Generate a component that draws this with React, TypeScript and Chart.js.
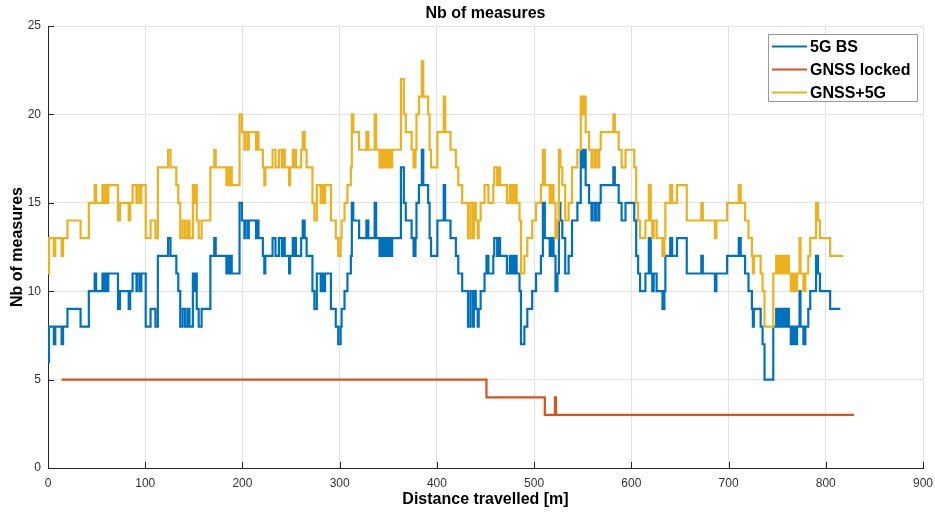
import React, { useEffect, useRef } from "react";
import { Chart, registerables } from "chart.js";

Chart.register(...registerables);

const chartTitle = "Nb of measures";
const xTitle = "Distance travelled [m]";
const yTitle = "Nb of measures";
const xTicks = [0, 100, 200, 300, 400, 500, 600, 700, 800, 900];
const yTicks = [0, 5, 10, 15, 20, 25];
const seriesNames = ["5G BS", "GNSS locked", "GNSS+5G"];
const seriesColors = ["#0072BD", "#D95319", "#EDB120"];

// [distance (m), count] step points: value holds until next point
const bs5g: [number, number][] = [
  [0, 6], [1, 8], [6, 7], [7.5, 8], [14, 7], [15.5, 8], [20, 9], [33.5, 8], [42, 10], [48, 11], [49.5, 10], [56, 11], [58, 10], [60, 11], [61, 10], [62, 11], [72, 9], [74, 10], [83, 9], [84.5, 10], [87, 11], [91, 10], [92, 11], [94.5, 10], [96, 11], [100.5, 8], [105.5, 9], [110.5, 8], [113, 12],
  [123.5, 13], [126, 12], [132, 11], [134, 10], [136, 8], [138.5, 9], [141, 8], [143.5, 9], [145.5, 8], [149, 11], [150.5, 10], [151.5, 11], [153, 9], [155, 8], [158, 9], [167, 12], [171, 13], [172.5, 12], [183.5, 11], [185, 12], [186, 11], [187, 12], [189, 11], [197, 15], [199.5, 14], [202, 13], [203, 14], [205.5, 13], [206.5, 14], [214, 13], [215.5, 14], [216.5, 13], [221, 12], [222.5, 11], [223.5, 12], [231, 13], [234, 12], [237.5, 13], [240.5, 12],
  [242, 13], [243.5, 12], [248, 11], [249, 12], [251.8, 13], [253, 12], [254, 13], [255, 12], [260.4, 13], [262, 14], [264, 13], [266, 12], [272, 10], [274, 9], [276.5, 11], [280.5, 10], [282, 11], [284, 10], [285, 11], [291, 9], [296, 8], [298.5, 7], [301, 8], [302, 9], [305, 10], [308, 11], [311.5, 12], [312.5, 15], [314, 14], [320, 13], [327.5, 14], [329.5, 13], [336, 15], [337.5, 13], [341, 12], [342, 13], [344, 12], [345, 13], [347, 12], [348, 13], [350, 12], [351, 13], [353, 12], [354, 13],
  [363, 17], [366, 15], [368, 14], [374, 13], [376, 12], [378, 13], [379, 15], [381.5, 16], [384.5, 18], [386, 16], [391, 15], [392.5, 13], [394, 12], [400.5, 14], [407, 16], [408.5, 14], [414, 13], [419.5, 12], [422, 11], [426, 10], [432, 8], [434.5, 10], [437, 8], [438, 10], [440, 9], [442, 8], [443, 9], [445, 10], [449, 11],
  [451, 12], [453, 11], [458, 12], [459, 13], [462, 12], [464, 13], [465, 12], [472, 11], [475, 12], [477, 11], [479, 12], [480, 11], [481, 12], [482, 11], [485, 10], [486.5, 7], [490, 8], [493, 9], [498, 10], [502, 11], [507, 12], [509, 15],
  [511, 13], [516, 12], [518, 13], [520, 12], [522, 10], [524, 11], [525.5, 15], [527, 14], [529, 13], [532, 11], [535.5, 12], [539, 14], [544.5, 15], [548, 18], [550, 17], [551, 18], [553, 16], [556.5, 15], [559, 14], [560, 15], [562.5, 14], [563.5, 15], [566, 14], [567, 15], [568.5, 16], [581.5, 17], [583, 16], [587, 15], [590, 14], [594, 15], [603, 14], [605, 12], [607, 11], [609, 10], [614.5, 11], [618, 13], [620, 11], [621.5, 10], [623, 11], [626, 10], [632, 9], [634, 10], [635, 12], [640, 13], [642, 12], [647, 13], [657, 11], [672, 12], [673.5, 11], [686, 10], [687.5, 11], [698.5, 12], [710.5, 13], [712.5, 12], [717, 11], [720.5, 10], [724, 9], [725, 8], [726, 9], [733, 8], [735, 7], [737, 5], [746, 8], [749, 9], [751, 8], [753, 9], [755, 8], [756, 9], [758, 8], [760, 9], [762, 8], [764, 7], [765, 8], [766, 7], [767, 8], [769, 7], [770.5, 8], [773, 10], [774, 8], [777, 7], [779, 8], [782, 9], [784, 10], [790, 12], [792, 11], [794, 10], [804.5, 9], [815, 9],
];

const gnssLocked: [number, number][] = [
  [14, 5], [451, 4], [511, 3], [521.5, 4], [522.5, 3], [829, 3],
];

const gnss5g: [number, number][] = [
  [0, 11], [1, 13], [6, 12], [7.5, 13], [14, 12], [15.5, 13], [20, 14], [33.5, 13], [42, 15], [48, 16], [49.5, 15], [56, 16], [58, 15], [60, 16], [61, 15], [62, 16], [72, 14], [74, 15], [83, 14], [84.5, 15], [87, 16], [91, 15], [92, 16], [94.5, 15], [96, 16], [100.5, 13], [105.5, 14], [110.5, 13], [113, 17],
  [123.5, 18], [126, 17], [132, 16], [134, 15], [136, 13], [138.5, 14], [141, 13], [143.5, 14], [145.5, 13], [149, 16], [150.5, 15], [151.5, 16], [153, 14], [155, 13], [158, 14], [167, 17], [171, 18], [172.5, 17], [183.5, 16], [185, 17], [186, 16], [187, 17], [189, 16], [197, 20], [199.5, 19], [202, 18], [203, 19], [205.5, 18], [206.5, 19], [214, 18], [215.5, 19], [216.5, 18], [221, 17], [222.5, 16], [223.5, 17], [231, 18], [234, 17], [237.5, 18], [240.5, 17],
  [242, 18], [243.5, 17], [248, 16], [249, 17], [251.8, 18], [253, 17], [254, 18], [255, 17], [260.4, 18], [262, 19], [264, 18], [266, 17], [272, 15], [274, 14], [276.5, 16], [280.5, 15], [282, 16], [284, 15], [285, 16], [291, 14], [296, 13], [298.5, 12], [301, 13], [302, 14], [305, 15], [308, 16], [311.5, 17], [312.5, 20], [314, 19], [320, 18], [327.5, 19], [329.5, 18], [336, 20], [337.5, 18], [341, 17], [342, 18], [344, 17], [345, 18], [347, 17], [348, 18], [350, 17], [351, 18], [353, 17], [354, 18],
  [363, 22], [366, 20], [368, 19], [374, 18], [376, 17], [378, 18], [379, 20], [381.5, 21], [384.5, 23], [386, 21], [391, 20], [392.5, 18], [394, 17], [400.5, 19], [407, 21], [408.5, 19], [414, 18], [419.5, 17], [422, 16], [426, 15], [432, 13], [434.5, 15], [437, 13], [438, 15], [440, 14], [442, 13], [443, 14], [445, 15], [449, 16],
  [451, 16], [453, 15], [458, 16], [459, 17], [462, 16], [464, 17], [465, 16], [472, 15], [475, 16], [477, 15], [479, 16], [480, 15], [481, 16], [482, 15], [485, 14], [486.5, 11], [490, 12], [493, 13], [498, 14], [502, 15], [507, 16], [509, 18],
  [511, 16], [516, 15], [518, 16], [520, 15], [522, 13], [524, 14], [525.5, 18], [527, 17], [529, 16], [532, 14], [535.5, 15], [539, 17], [544.5, 18], [548, 21], [550, 20], [551, 21], [553, 19], [556.5, 18], [559, 17], [560, 18], [562.5, 17], [563.5, 18], [566, 17], [567, 18], [568.5, 19], [581.5, 20], [583, 19], [587, 18], [590, 17], [594, 18], [603, 17], [605, 15], [607, 14], [609, 13], [614.5, 14], [618, 16], [620, 14], [621.5, 13], [623, 14], [626, 13], [632, 12], [634, 13], [635, 15], [640, 16], [642, 15], [647, 16], [657, 14], [672, 15], [673.5, 14], [686, 13], [687.5, 14], [698.5, 15], [710.5, 16], [712.5, 15], [717, 14], [720.5, 13], [724, 12], [725, 11], [726, 12], [733, 11], [735, 10], [737, 8], [746, 11], [749, 12], [751, 11], [753, 12], [755, 11], [756, 12], [758, 11], [760, 12], [762, 11], [764, 10], [765, 11], [766, 10], [767, 11], [769, 10], [770.5, 11], [773, 13], [774, 11], [777, 10], [779, 11], [782, 12], [784, 13], [790, 15], [792, 14], [794, 13], [804.5, 12], [818, 12],
];

const FONT = "'Liberation Sans', Arial, Helvetica, sans-serif";

export default function App() {
  const canvasRef = useRef<HTMLCanvasElement>(null);

  useEffect(() => {
    const canvas = canvasRef.current;
    if (!canvas) return;
    const toPts = (a: [number, number][]) => a.map(([x, y]) => ({ x, y }));
    const series = [bs5g, gnssLocked, gnss5g];

    const decor = {
      id: "matlabDecor",
      afterDraw(chart: any) {
        const { ctx, chartArea, scales } = chart;
        ctx.save();
        // inward tick marks
        ctx.strokeStyle = "#262626";
        ctx.lineWidth = 1;
        ctx.beginPath();
        xTicks.forEach((t) => {
          const px = Math.round(scales.x.getPixelForValue(t)) + 0.5;
          ctx.moveTo(px, chartArea.bottom);
          ctx.lineTo(px, chartArea.bottom - 6);
        });
        yTicks.forEach((t) => {
          const py = Math.round(scales.y.getPixelForValue(t)) + 0.5;
          ctx.moveTo(chartArea.left, py);
          ctx.lineTo(chartArea.left + 6, py);
        });
        ctx.stroke();
        // title
        ctx.fillStyle = "#000";
        ctx.font = `bold 16px ${FONT}`;
        ctx.textAlign = "center";
        ctx.textBaseline = "middle";
        ctx.fillText(chartTitle, (chartArea.left + chartArea.right) / 2, 14);
        // legend
        const bx = 768.5, by = 34.5, bw = 149, bh = 67;
        ctx.fillStyle = "#ffffff";
        ctx.fillRect(bx, by, bw, bh);
        ctx.strokeStyle = "#9a9a9a";
        ctx.strokeRect(bx, by, bw, bh);
        ctx.font = `bold 16px ${FONT}`;
        ctx.textAlign = "left";
        seriesNames.forEach((name, i) => {
          const y = 46.5 + i * 23;
          ctx.strokeStyle = seriesColors[i];
          ctx.lineWidth = 2;
          ctx.beginPath();
          ctx.moveTo(772, y);
          ctx.lineTo(807, y);
          ctx.stroke();
          ctx.fillStyle = "#000";
          ctx.fillText(name, 810, y + 1);
        });
        ctx.restore();
      },
    };

    const chart = new Chart(canvas, {
      type: "line",
      data: {
        datasets: series.map((s, i) => ({
          label: seriesNames[i],
          data: toPts(s),
          borderColor: seriesColors[i],
          backgroundColor: seriesColors[i],
          borderWidth: 2.2,
          pointRadius: 0,
          stepped: "before" as const,
          fill: false,
          order: 3 - i,
        })),
      },
      options: {
        responsive: false,
        animation: false,
        layout: { padding: { top: 26, right: 12, left: 0, bottom: 0 } },
        plugins: { legend: { display: false }, tooltip: { enabled: false } },
        scales: {
          x: {
            type: "linear",
            min: 0,
            max: 900,
            afterFit(s: any) { s.height = 44; s.paddingRight = 0; s.paddingLeft = 0; },
            afterBuildTicks(s: any) { s.ticks = xTicks.map((v) => ({ value: v })); },
            ticks: { color: "#333", font: { family: FONT, size: 12 }, padding: 8, maxRotation: 0 },
            grid: { color: "#e3e3e3", drawTicks: false, lineWidth: 1 },
            border: { color: "#262626", width: 1 },
            title: { display: true, text: xTitle, color: "#000", font: { family: FONT, size: 16, weight: "bold" }, padding: { top: 0, bottom: 3 } },
          },
          y: {
            type: "linear",
            min: 0,
            max: 25,
            afterFit(s: any) { s.width = 48; s.paddingTop = 0; s.paddingBottom = 0; },
            afterBuildTicks(s: any) { s.ticks = yTicks.map((v) => ({ value: v })); },
            ticks: { color: "#333", font: { family: FONT, size: 12 }, padding: 7 },
            grid: { color: "#e3e3e3", drawTicks: false, lineWidth: 1 },
            border: { color: "#262626", width: 1 },
            title: { display: true, text: yTitle, color: "#000", font: { family: FONT, size: 16, weight: "bold" }, padding: { top: 8, bottom: 0 } },
          },
        },
      },
      plugins: [decor],
    });
    return () => chart.destroy();
  }, []);

  return (
    <div style={{ position: "absolute", left: 0, top: 0, width: 935, height: 512, background: "#fff" }}>
      <canvas ref={canvasRef} width={935} height={512} style={{ width: 935, height: 512, display: "block" }} />
    </div>
  );
}
